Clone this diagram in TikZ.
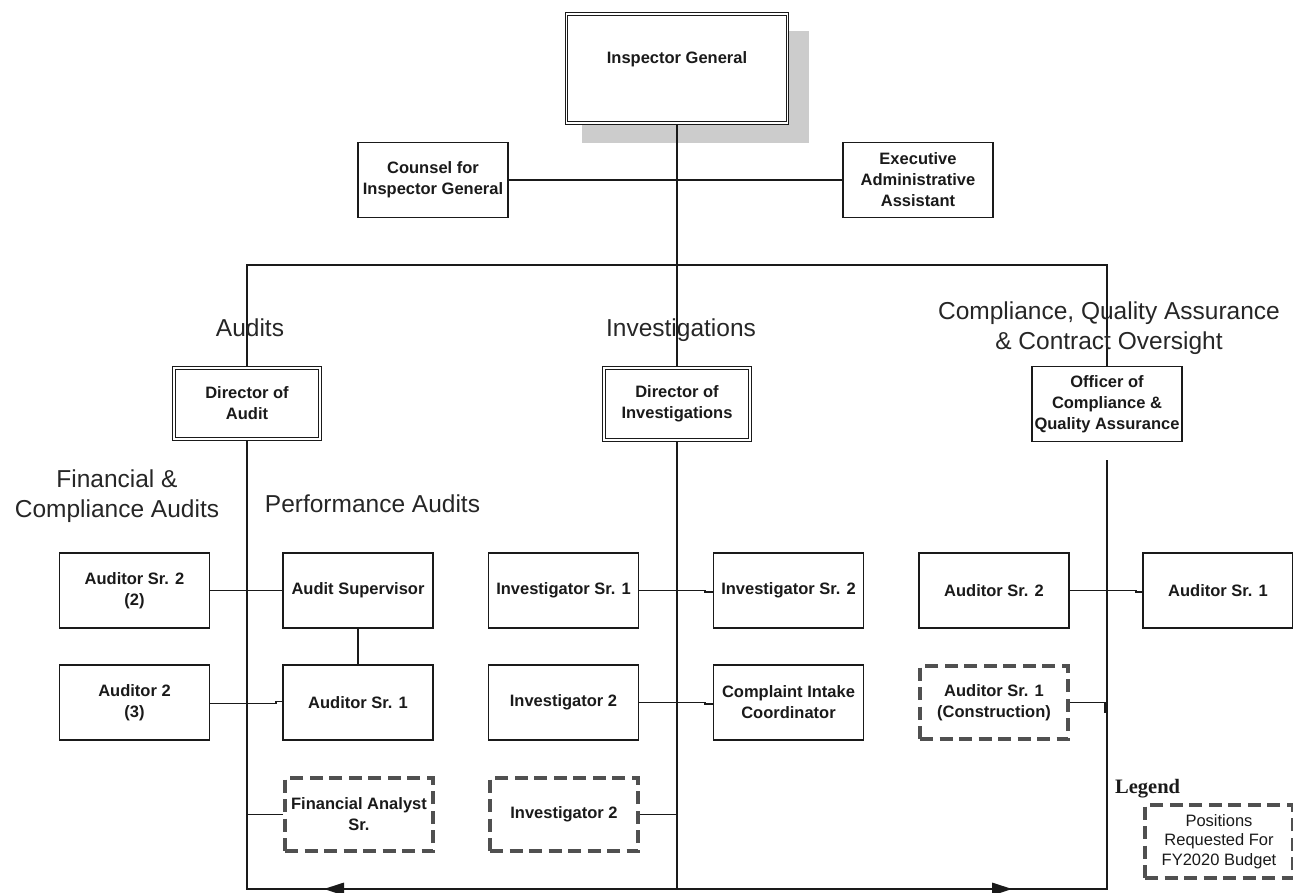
\documentclass[tikz,border=0pt]{standalone}
\usepackage{fontspec}
\setmainfont{Liberation Sans}
\newfontfamily\legendfont{Liberation Serif}
\usetikzlibrary{calc}
\definecolor{shadowgray}{HTML}{CCCCCC}
\definecolor{dashgray}{HTML}{505050}
\definecolor{inkc}{HTML}{1A1A1A}
\definecolor{labelc}{HTML}{262626}
\pgfdeclarelayer{bg}
\pgfdeclarelayer{shade}
\pgfsetlayers{shade,bg,main}
\begin{document}
\begin{tikzpicture}[x=1pt,y=-1pt,
  box/.style={draw=inkc, line width=1.7pt, fill=white, minimum width=150pt, minimum height=75pt,
    inner sep=0pt, align=center, font=\fontsize{16.5}{21}\selectfont\bfseries, text=inkc},
  dblbox/.style={box, double=white, double distance=1.8pt, line width=1pt},
  newbox/.style={box, draw=dashgray, line width=3.5pt, dash pattern=on 13pt off 6.5pt,
    minimum width=148pt, minimum height=73pt},
  conn/.style={draw=inkc, line width=1.3pt},
  sect/.style={font=\fontsize{24.5}{30}\selectfont, text=labelc, align=center, inner sep=0pt},
]
\useasboundingbox (0,0) rectangle (1293,892);

% helper coordinates
\coordinate (brL) at (247,265);
\coordinate (brR) at (1107,265);
\coordinate (botL) at (247,889);
\coordinate (botR) at (1107,889);
\coordinate (rtop) at (1107,460);
\coordinate (jL) at (276,0);
\coordinate (jC) at (705,0);
\coordinate (jR) at (1136,0);
\coordinate (jT) at (1105,0);

% boxes
\node[dblbox, minimum width=221pt, minimum height=109pt] (IG) at (677,68.5) {Inspector General\\~};
\node[box] (CIG) at (433,180) {Counsel for\\Inspector General};
\node[box] (EAA) at (918,180) {Executive\\Administrative\\Assistant};

\node[dblbox, minimum width=146pt, minimum height=71pt] (DA) at (247,403.5) {Director of\\Audit};
\node[dblbox, minimum width=146pt, minimum height=72pt] (DI) at (677,404) {Director of\\Investigations};
\node[box] (OC) at (1107,404) {Officer of\\Compliance \&\\Quality Assurance};

\node[box] (AS2a) at (134.5,590.5) {Auditor Sr. 2\\(2)};
\node[box] (ASup) at (358,590.5) {Audit Supervisor};
\node[box] (IS1) at (563.5,590.5) {Investigator Sr. 1};
\node[box] (IS2) at (788.5,590.5) {Investigator Sr. 2};
\node[box] (CAS2) at (994,590.5) {Auditor Sr. 2};
\node[box] (CAS1) at (1218,590.5) {Auditor Sr. 1};

\node[box] (A23) at (134.5,702.5) {Auditor 2\\(3)};
\node[box] (ASr1) at (358,702.5) {Auditor Sr. 1};
\node[box] (I2) at (563.5,702.5) {Investigator 2};
\node[box] (CIC) at (788.5,702.5) {Complaint Intake\\Coordinator};
\node[newbox] (CASC) at (994,702.5) {Auditor Sr. 1\\(Construction)};

\node[newbox] (FAS) at (359,814.5) {Financial Analyst\\Sr.};
\node[newbox] (I2n) at (564,814.5) {Investigator 2};

% legend
\node[font=\legendfont\bfseries\fontsize{20.5}{24}\selectfont, anchor=base west, inner sep=0pt, text=inkc] (LG) at (1115,793) {Legend};
\node[newbox, font=\fontsize{16.5}{19.5}\selectfont] (LB) at (1219,841.5) {Positions\\Requested For\\FY2020 Budget};

% shadow of the top box (lowest layer)
\begin{pgfonlayer}{shade}
\fill[shadowgray] ([shift={(16,17)}]IG.north west) rectangle ([shift={(21,19)}]IG.south east);
\end{pgfonlayer}

% connectors (behind the boxes, above the shadow)
\begin{pgfonlayer}{bg}
\draw[conn] (IG.south) -- (IG.south |- botL);
\draw[conn] (CIG.east) -- (EAA.west);
\draw[conn] (DA.north) -- (brL) -- (brR) -- (OC.north);
\draw[conn] (DA.south) -- (botL) -- (botR) -- (rtop);

\draw[conn] (AS2a.east) -- (ASup.west);
\draw[conn] (ASup.south) -- (ASr1.north);
\draw[conn] ([yshift=-1pt]A23.east) -- ([yshift=-1pt]A23.east -| jL) -- ([yshift=1pt]ASr1.west -| jL) -- ([yshift=1pt]ASr1.west);
\draw[conn] (FAS.west -| botL) -- (FAS.west);

\draw[conn] (IS1.east) -- (IS1.east -| jC) -- ([yshift=-1.5pt]IS2.west -| jC) -- ([yshift=-1.5pt]IS2.west);
\draw[conn] (I2.east) -- (I2.east -| jC) -- ([yshift=-1.5pt]CIC.west -| jC) -- ([yshift=-1.5pt]CIC.west);
\draw[conn] (I2n.east) -- (I2n.east -| IG.south);

\draw[conn] (CAS2.east) -- (CAS2.east -| jR) -- ([yshift=-1.5pt]CAS1.west -| jR) -- ([yshift=-1.5pt]CAS1.west);
\draw[conn] (CASC.east) -- (CASC.east -| jT) -- ([yshift=-10pt]CASC.east -| jT);

% arrowheads on the bottom line
\fill[inkc] ($(botL)+(77,0)$) -- ++(20,-6.5) -- ++(0,13) -- cycle;
\fill[inkc] ($(botR)+(-95,0)$) -- ++(-20,-6.5) -- ++(0,13) -- cycle;
\end{pgfonlayer}

% section labels
\node[sect] (Laud) at (250,328) {Audits};
\node[sect] (Linv) at (681,330) {Investigations};
\node[sect] (Lcomp) at (1109,328) {Compliance, Quality Assurance\\\& Contract Oversight};
\node[sect] (Lfin) at (117,496) {Financial \&\\Compliance Audits};
\node[sect] (Lperf) at (372.5,504) {Performance Audits};
\end{tikzpicture}
\end{document}
